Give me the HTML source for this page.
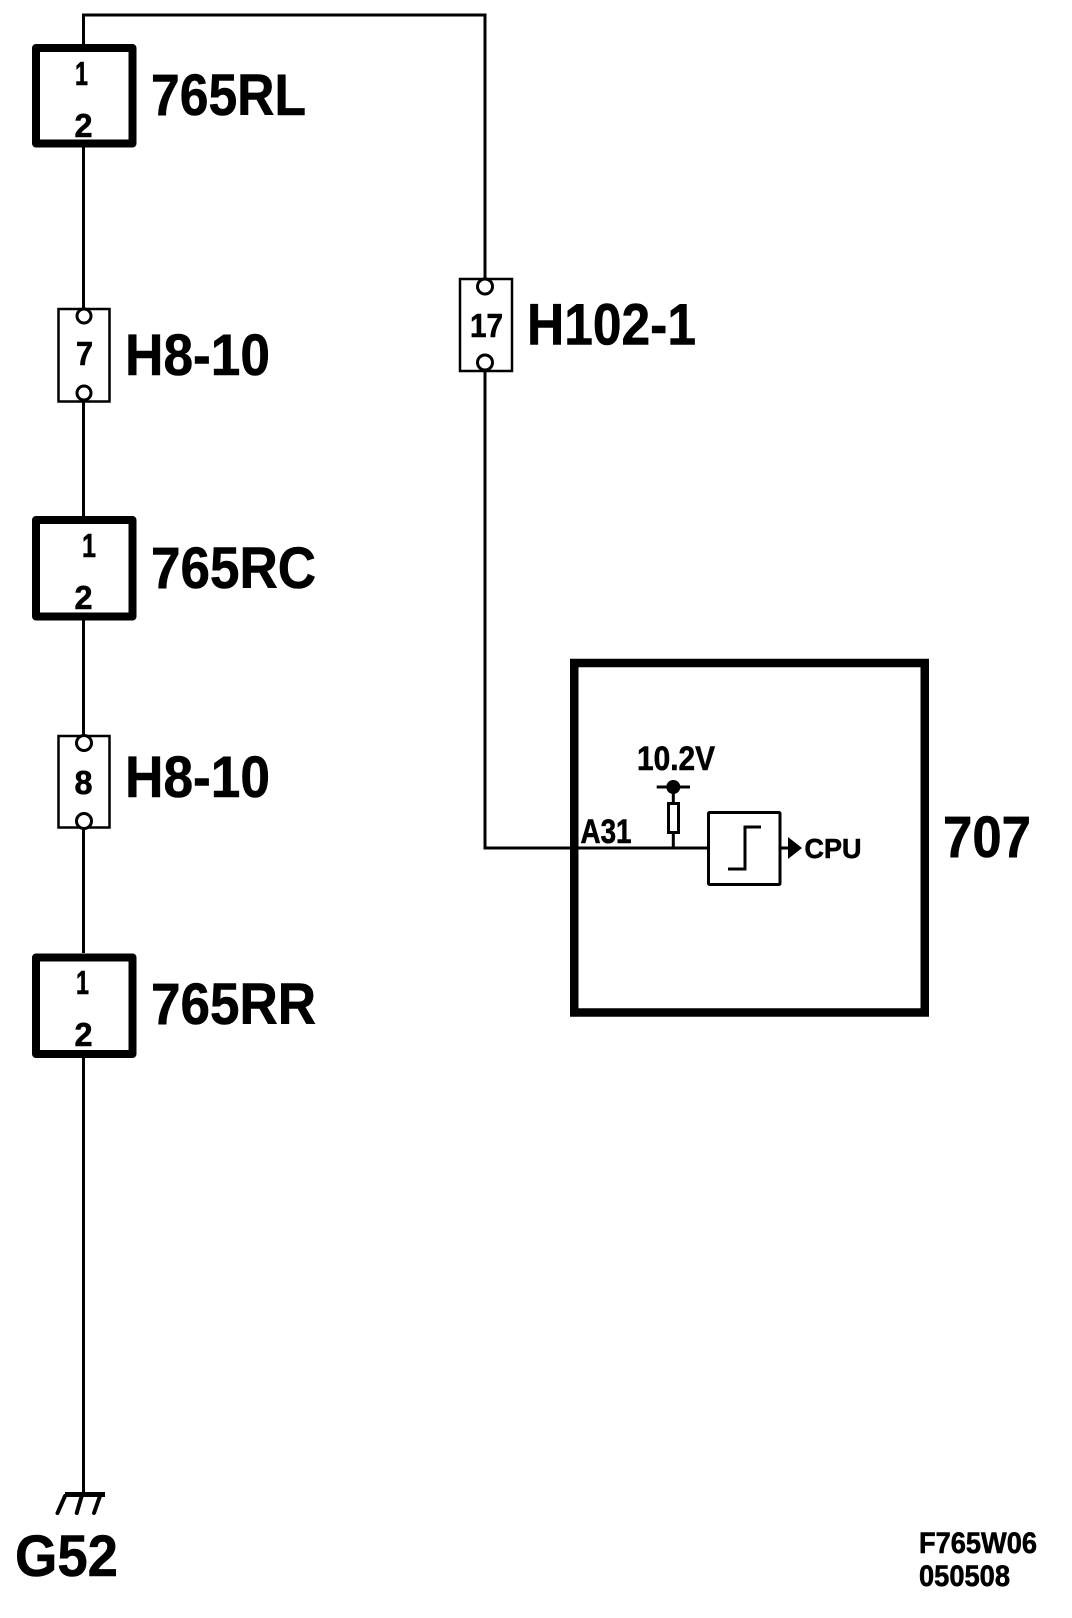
<!DOCTYPE html>
<html><head><meta charset="utf-8"><style>
html,body{margin:0;padding:0;background:#fff}
svg{display:block}
text{font-family:"Liberation Sans",Arial,sans-serif;font-weight:bold;fill:#000;stroke:#000;stroke-width:.6}
</style></head><body>
<svg width="1072" height="1618" viewBox="0 0 1072 1618" xmlns="http://www.w3.org/2000/svg">
<g fill="none" stroke="#000" stroke-width="3">
<path d="M83.5 44V15H485V278"/>
<path d="M83.5 147V308"/>
<path d="M83.5 402V516"/>
<path d="M83.5 620V735"/>
<path d="M83.5 828V953"/>
<path d="M83.5 1058V1492"/>
<path d="M485 372V848H707"/>
</g>
<g fill="#fff" stroke="#000" stroke-width="8" stroke-linejoin="round">
<rect x="36" y="48" width="96.5" height="95.5"/>
<rect x="36" y="520" width="96.5" height="96.5"/>
<rect x="36" y="957.5" width="96.5" height="96.5"/>
</g>
<rect x="574.25" y="663" width="350.5" height="349.5" fill="none" stroke="#000" stroke-width="8.5"/>
<path d="M485 848H707" stroke="#000" stroke-width="3" fill="none"/>
<g fill="#fff" stroke="#000" stroke-width="2.5">
<rect x="58.5" y="309" width="51" height="92.5"/>
<rect x="58.5" y="736" width="51" height="91.5"/>
<rect x="460" y="279" width="52" height="92"/>
</g>
<g fill="#fff" stroke="#000" stroke-width="3">
<circle cx="84" cy="316" r="7"/>
<circle cx="84" cy="393" r="7"/>
<circle cx="84" cy="743" r="7.5"/>
<circle cx="84" cy="821" r="7.5"/>
<circle cx="485" cy="286.5" r="7.5"/>
<circle cx="485" cy="362.5" r="7.5"/>
<rect x="668.5" y="803.5" width="10" height="29"/>
<rect x="708.5" y="812.5" width="71.5" height="72" rx="1"/>
</g>
<g fill="none" stroke="#000" stroke-width="3">
<path d="M673.3 787V803M673.3 833V848"/>
<path d="M656.7 787H690"/>
<path d="M728 869H745V827H761"/>
<path d="M780 848H791"/>
</g>
<circle cx="673.3" cy="787" r="7" fill="#000"/>
<path d="M788 837L802 848L788 859Z" fill="#000"/>
<path d="M65 1494.5H105" stroke="#000" stroke-width="5" fill="none"/>
<path d="M65 1496L57.5 1513M81.7 1496L76.7 1513M100 1496L94 1513" stroke="#000" stroke-width="4" stroke-linecap="round" fill="none"/>
<g font-size="33">
<text x="75" y="85" textLength="13" lengthAdjust="spacingAndGlyphs">1</text>
<text x="74.5" y="137" textLength="18" lengthAdjust="spacingAndGlyphs">2</text>
<text x="82" y="557" textLength="14" lengthAdjust="spacingAndGlyphs">1</text>
<text x="74.5" y="609" textLength="18" lengthAdjust="spacingAndGlyphs">2</text>
<text x="76" y="994" textLength="13" lengthAdjust="spacingAndGlyphs">1</text>
<text x="74.5" y="1046" textLength="18" lengthAdjust="spacingAndGlyphs">2</text>
<text x="76" y="365" textLength="17" lengthAdjust="spacingAndGlyphs">7</text>
<text x="74.5" y="794" textLength="18" lengthAdjust="spacingAndGlyphs">8</text>
<text x="470" y="337" textLength="33" lengthAdjust="spacingAndGlyphs">17</text>
</g>
<g font-size="58">
<text x="151" y="115" textLength="155" lengthAdjust="spacingAndGlyphs">765RL</text>
<text x="151" y="588" textLength="165" lengthAdjust="spacingAndGlyphs">765RC</text>
<text x="151" y="1024" textLength="165" lengthAdjust="spacingAndGlyphs">765RR</text>
<text x="125" y="375" textLength="145" lengthAdjust="spacingAndGlyphs">H8-10</text>
<text x="125" y="797" textLength="145" lengthAdjust="spacingAndGlyphs">H8-10</text>
<text x="527" y="344.5" textLength="169" lengthAdjust="spacingAndGlyphs">H102-1</text>
<text x="943" y="857" textLength="88" lengthAdjust="spacingAndGlyphs">707</text>
<text x="15" y="1576" textLength="103" lengthAdjust="spacingAndGlyphs">G52</text>
</g>
<text x="580.5" y="843" font-size="34" textLength="51" lengthAdjust="spacingAndGlyphs">A31</text>
<text x="637" y="770" font-size="34" textLength="78" lengthAdjust="spacingAndGlyphs">10.2V</text>
<text x="804.5" y="858" font-size="28" textLength="57" lengthAdjust="spacingAndGlyphs">CPU</text>
<text x="919" y="1553" font-size="30" textLength="118" lengthAdjust="spacingAndGlyphs">F765W06</text>
<text x="919" y="1586" font-size="30" textLength="91" lengthAdjust="spacingAndGlyphs">050508</text>
</svg>
</body></html>
